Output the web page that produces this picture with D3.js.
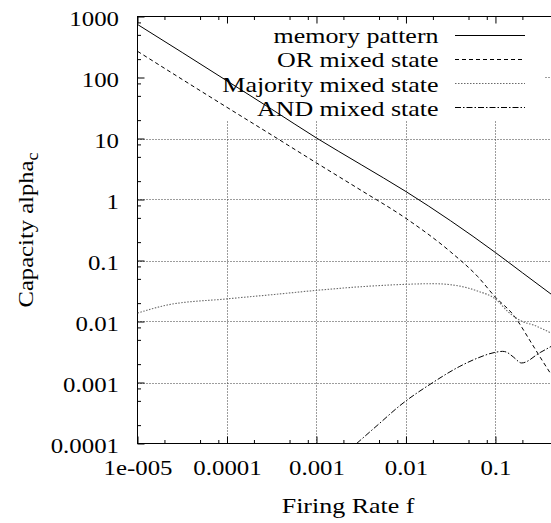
<!DOCTYPE html>
<html>
<head>
<meta charset="utf-8">
<script src="https://cdn.jsdelivr.net/npm/d3@7"></script>
<style>
  html, body { margin: 0; padding: 0; background: #fff; }
  svg { display: block; }
</style>
</head>
<body>
<svg id="chart" width="551" height="523"></svg>
<script>
// ---- data: firing rate f and critical capacity alpha_c per state ----
const memoryF     = [1e-5, 3.16e-5, 1e-4, 3.16e-4, 1e-3, 3.16e-3, 1e-2, 3.16e-2, 0.1, 0.2, 0.42];
const memoryAlpha = [741, 257, 88, 30.2, 10.2, 3.72, 1.35, 0.447, 0.135, 0.063, 0.028];

const orF     = [1e-5, 3.16e-5, 1e-4, 3.16e-4, 1e-3, 3.16e-3, 1e-2, 3.16e-2, 0.063, 0.1, 0.158, 0.251, 0.316, 0.42];
const orAlpha = [269, 93, 32.4, 11.4, 3.98, 1.41, 0.49, 0.138, 0.055, 0.025, 0.0129, 0.0045, 0.0026, 0.00135];

const majorityF     = [1e-5, 2.14e-5, 1e-4, 3.16e-4, 1e-3, 3.16e-3, 1e-2, 0.02, 0.04, 0.063, 0.1, 0.141, 0.2, 0.263, 0.42];
const majorityAlpha = [0.01374, 0.0186, 0.0235, 0.0275, 0.0324, 0.0372, 0.0407, 0.0417, 0.038, 0.0316, 0.0234, 0.0141, 0.01, 0.0088, 0.00646];

const andF     = [0.00281, 0.005, 0.00857, 0.02, 0.04, 0.063, 0.1, 0.12, 0.132, 0.158, 0.196, 0.316, 0.42];
const andAlpha = [1e-4, 0.00021, 0.000419, 0.001, 0.00184, 0.00251, 0.00313, 0.00324, 0.00316, 0.00263, 0.00209, 0.0031, 0.00391];

const seriesNames = ["memory pattern", "OR mixed state", "Majority mixed state", "AND mixed state"];

const xTickValues = [1e-5, 1e-4, 1e-3, 1e-2, 0.1];
const xTickLabels = ["1e-005", "0.0001", "0.001", "0.01", "0.1"];
const yTickValues = [1e-4, 1e-3, 1e-2, 0.1, 1, 10, 100, 1000];
const yTickLabels = ["0.0001", "0.001", "0.01", "0.1", "1", "10", "100", "1000"];
const minorMultipliers = [2, 5, 8];

const xTitle = "Firing Rate f";
const yTitle = "Capacity alpha";
const yTitleSub = "c";

// ---- layout & styles ----
const FONT = "'Liberation Serif', 'Times New Roman', serif";
const FS = 22;
const plot = { left: 137.5, right: 558, top: 16.5, bottom: 443.5 };

const lineStyles = [
  { stroke: "#000", dash: null, width: 1 },
  { stroke: "#000", dash: "4,3", width: 1 },
  { stroke: "#6a6a6a", dash: "1.5,1.5", width: 1.1 },
  { stroke: "#000", dash: "6,2,1.5,2", width: 1 }
];

const svg = d3.select("#chart");

const x = d3.scaleLog().domain([1e-5, 0.5]).range([plot.left, plot.right]);
const y = d3.scaleLog().domain([1e-4, 1000]).range([plot.bottom, plot.top]);

// stretch a text element horizontally around its anchor point
function stretch(sel, k) {
  sel.each(function () {
    const t = d3.select(this);
    const tx = +t.attr("x") || 0, ty = +t.attr("y") || 0;
    t.attr("x", null).attr("y", null)
     .attr("transform", `translate(${tx},${ty}) scale(${k},1)`);
  });
}

// ---- grid ----
const grid = svg.append("g").attr("stroke", "#3a3a3a").attr("stroke-width", 1)
  .attr("stroke-dasharray", "1,2").attr("fill", "none");
grid.selectAll("line.gx").data(xTickValues.slice(1)).join("line")
  .attr("x1", d => Math.round(x(d)) + 0.5).attr("x2", d => Math.round(x(d)) + 0.5)
  .attr("y1", plot.top).attr("y2", plot.bottom);
grid.selectAll("line.gy").data(yTickValues.slice(1, -1)).join("line")
  .attr("x1", plot.left).attr("x2", plot.right)
  .attr("y1", d => Math.round(y(d)) + 0.5).attr("y2", d => Math.round(y(d)) + 0.5);

// opaque key area hides the grid underneath
svg.append("rect")
  .attr("x", plot.left + 1).attr("y", plot.top + 0.5)
  .attr("width", 543 - plot.left).attr("height", 120 - plot.top)
  .attr("fill", "#fff");

// ---- axes: inward major and minor ticks on all sides ----
const minorValues = (domainTicks) => {
  const out = [];
  domainTicks.forEach(t => minorMultipliers.forEach(m => out.push(t * m)));
  return out;
};
const xMinor = minorValues([1e-5, 1e-4, 1e-3, 1e-2, 0.1]).filter(v => v <= 0.5);
const yMinor = minorValues(yTickValues.slice(0, -1));

function styleAxis(g) {
  g.attr("font-family", FONT).attr("font-size", FS);
  g.select(".domain").remove();
  g.selectAll(".tick line").attr("stroke", "#000").attr("stroke-width", 1);
}

const xFmt = d => xTickLabels[xTickValues.indexOf(d)];
const yFmt = d => yTickLabels[yTickValues.indexOf(d)];

// bottom
const gxb = svg.append("g").attr("transform", `translate(0,${plot.bottom})`)
  .call(d3.axisBottom(x).tickValues(xTickValues).tickFormat(xFmt).tickSize(-7).tickSizeOuter(0))
  .call(styleAxis);
gxb.selectAll("text").attr("fill", "#000").attr("y", 31).attr("dy", null).call(stretch, 1.13);
svg.append("g").attr("transform", `translate(0,${plot.bottom})`)
  .call(d3.axisBottom(x).tickValues(xMinor).tickFormat("").tickSize(-3.5).tickSizeOuter(0))
  .call(styleAxis);

// top
svg.append("g").attr("transform", `translate(0,${plot.top})`)
  .call(d3.axisTop(x).tickValues(xTickValues).tickFormat("").tickSize(-7).tickSizeOuter(0))
  .call(styleAxis);
svg.append("g").attr("transform", `translate(0,${plot.top})`)
  .call(d3.axisTop(x).tickValues(xMinor).tickFormat("").tickSize(-3.5).tickSizeOuter(0))
  .call(styleAxis);

// left
const gyl = svg.append("g").attr("transform", `translate(${plot.left},0)`)
  .call(d3.axisLeft(y).tickValues(yTickValues).tickFormat(yFmt).tickSize(-7).tickSizeOuter(0))
  .call(styleAxis);
gyl.selectAll("text").attr("fill", "#000").attr("x", -18.5).attr("y", 9).attr("dy", null).call(stretch, 1.13);
svg.append("g").attr("transform", `translate(${plot.left},0)`)
  .call(d3.axisLeft(y).tickValues(yMinor).tickFormat("").tickSize(-3.5).tickSizeOuter(0))
  .call(styleAxis);

// right
svg.append("g").attr("transform", `translate(${plot.right},0)`)
  .call(d3.axisRight(y).tickValues(yTickValues).tickFormat("").tickSize(-7).tickSizeOuter(0))
  .call(styleAxis);

// border
svg.append("rect")
  .attr("x", plot.left).attr("y", plot.top)
  .attr("width", plot.right - plot.left).attr("height", plot.bottom - plot.top)
  .attr("fill", "none").attr("stroke", "#000").attr("stroke-width", 1);

// ---- curves ----
svg.append("clipPath").attr("id", "plotClip").append("rect")
  .attr("x", plot.left).attr("y", plot.top)
  .attr("width", plot.right - plot.left).attr("height", plot.bottom - plot.top);

const series = [
  { f: memoryF, a: memoryAlpha },
  { f: orF, a: orAlpha },
  { f: majorityF, a: majorityAlpha },
  { f: andF, a: andAlpha }
];

const line = d3.line().x(d => x(d[0])).y(d => y(d[1])).curve(d3.curveMonotoneX);

const curves = svg.append("g").attr("clip-path", "url(#plotClip)");
series.forEach((s, i) => {
  const st = lineStyles[i];
  curves.append("path")
    .datum(d3.zip(s.f, s.a))
    .attr("d", line)
    .attr("fill", "none")
    .attr("stroke", st.stroke)
    .attr("stroke-width", st.width)
    .attr("stroke-dasharray", st.dash);
});

// ---- key ----
const key = svg.append("g");
const keyTextRight = 438.5, keySampleX1 = 455, keySampleX2 = 525, keyTop = 34.5, keyStep = 24.3;
seriesNames.forEach((name, i) => {
  const yy = keyTop + i * keyStep;
  const st = lineStyles[i];
  key.append("text")
    .attr("x", keyTextRight).attr("y", yy + 8.5)
    .attr("text-anchor", "end")
    .attr("font-family", FONT).attr("font-size", FS).attr("fill", "#000")
    .text(name)
    .call(stretch, 1.18);
  key.append("line")
    .attr("x1", keySampleX1).attr("x2", keySampleX2)
    .attr("y1", Math.round(yy) + 0.5).attr("y2", Math.round(yy) + 0.5)
    .attr("stroke", st.stroke).attr("stroke-width", st.width)
    .attr("stroke-dasharray", st.dash);
});

// ---- axis titles ----
svg.append("text")
  .attr("x", 348).attr("y", 513)
  .attr("text-anchor", "middle")
  .attr("font-family", FONT).attr("font-size", FS).attr("fill", "#000")
  .text(xTitle)
  .call(stretch, 1.18);

const yt = svg.append("text")
  .attr("transform", `translate(33,230) rotate(-90) scale(1.12,1)`)
  .attr("text-anchor", "middle")
  .attr("font-family", FONT).attr("font-size", FS).attr("fill", "#000");
yt.append("tspan").text(yTitle);
yt.append("tspan").attr("dy", 5).attr("font-size", 16).text(yTitleSub);
</script>
</body>
</html>
